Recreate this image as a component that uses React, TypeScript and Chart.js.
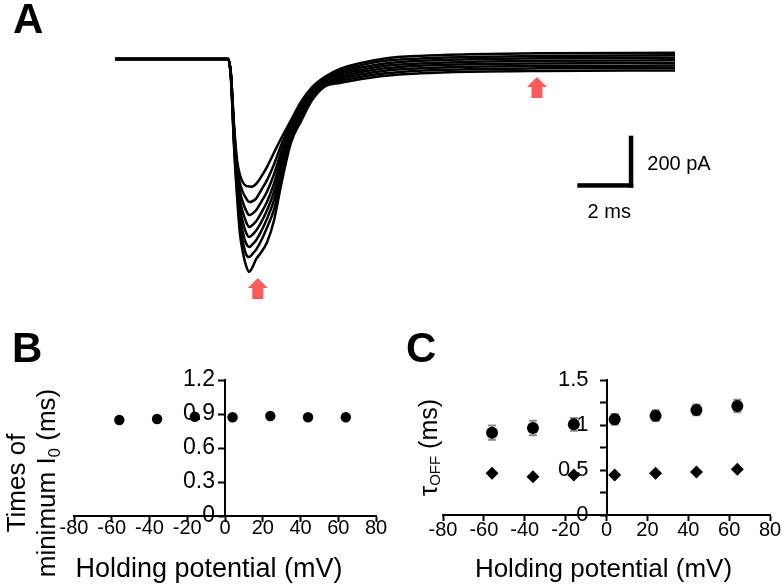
import React, { useEffect, useRef } from 'react';
import { Chart, registerables } from 'chart.js';
Chart.register(...registerables);

const FONT = '"Liberation Sans", Arial, Helvetica, sans-serif';
Chart.defaults.font.family = FONT;
Chart.defaults.color = '#000';

// ---------- Panel A: current traces (time in ms, current in pA) ----------
const timeMs = [0, 4.04, 4.14, 4.25, 4.36, 4.46, 4.57, 4.68, 4.79, 4.89, 5.04, 5.21, 5.43, 5.68, 5.96, 6.29, 6.64, 7.04, 7.5, 8.04, 8.75, 9.64, 10.89, 12.68, 15.18, 20];
const trace1 = [0, 0, -55, -250, -390, -445, -475, -488, -490, -491, -480, -455, -415, -360, -300, -235, -165, -108, -68, -38, -16, 2, 12, 18, 22, 24];
const trace2 = [0, 0, -58, -262, -410, -477, -514, -535, -550, -548, -537, -506, -466, -405, -324, -247, -176, -115, -74, -46, -25, -7, 2, 8, 12, 14];
const trace3 = [0, 0, -60, -274, -430, -509, -552, -582, -600, -596, -582, -552, -510, -443, -349, -259, -186, -122, -79, -53, -34, -17, -7, -1, 3, 5];
const trace4 = [0, 0, -63, -286, -450, -541, -591, -626, -646, -640, -624, -594, -549, -478, -373, -271, -197, -129, -85, -61, -43, -26, -17, -11, -7, -5];
const trace5 = [0, 0, -66, -299, -470, -574, -629, -667, -685, -678, -660, -630, -582, -510, -397, -284, -208, -137, -90, -69, -51, -36, -26, -20, -17, -15];
const trace6 = [0, 0, -69, -311, -490, -606, -668, -709, -723, -715, -697, -665, -614, -542, -421, -296, -219, -144, -96, -77, -60, -45, -36, -30, -27, -25];
const trace7 = [0, 0, -71, -323, -510, -638, -706, -751, -762, -752, -733, -701, -648, -578, -446, -308, -229, -151, -101, -84, -69, -55, -45, -39, -36, -34];
const trace8 = [0, 0, -74, -335, -530, -670, -745, -795, -819, -805, -770, -745, -705, -620, -470, -320, -240, -158, -106, -92, -78, -64, -55, -49, -46, -44];
const traces = [trace1, trace2, trace3, trace4, trace5, trace6, trace7, trace8];

const arrowTimes = [5.1, 15.07];
const arrowCurrents = [-842, -69];

const scaleBarCornerT = 18.51;
const scaleBarCornerI = -495;
const scaleBarTime = 2; // ms
const scaleBarCurrent = 200; // pA
const scaleBarTimeLabel = '2 ms';
const scaleBarCurrentLabel = '200 pA';

// ---------- Panels B and C ----------
const holdingPotential = [-56, -36, -16, 4, 24, 44, 64];
const timeOfMinimum = [0.847, 0.856, 0.876, 0.871, 0.882, 0.871, 0.871];
const tauOffSlow = [0.915, 0.967, 1.007, 1.063, 1.104, 1.167, 1.211];
const tauOffSlowErr = [0.08, 0.08, 0.07, 0.06, 0.06, 0.06, 0.07];
const tauOffFast = [0.463, 0.426, 0.444, 0.444, 0.463, 0.478, 0.507];

type Part = { text: string; size: number; dy?: number; bold?: boolean };

function drawRich(ctx: CanvasRenderingContext2D, parts: Part[], x: number, y: number, rotate: boolean, align: 'center' | 'left') {
  ctx.save();
  ctx.translate(x, y);
  if (rotate) ctx.rotate(-Math.PI / 2);
  const widths = parts.map((p) => {
    ctx.font = `${p.bold ? 'bold ' : ''}${p.size}px ${FONT}`;
    return ctx.measureText(p.text).width;
  });
  const total = widths.reduce((a, b) => a + b, 0);
  let cx = align === 'center' ? -total / 2 : 0;
  ctx.textAlign = 'left';
  ctx.textBaseline = 'alphabetic';
  ctx.fillStyle = '#000';
  parts.forEach((p, i) => {
    ctx.font = `${p.bold ? 'bold ' : ''}${p.size}px ${FONT}`;
    ctx.fillText(p.text, cx, p.dy || 0);
    cx += widths[i];
  });
  ctx.restore();
}

const fmtB = (v: any) => String(Number(Number(v).toFixed(1)));
const fmtC = (v: any) => {
  const n = Number(v);
  return Math.abs(n * 2 - Math.round(n * 2)) < 1e-6 ? String(Number(n.toFixed(2))) : '';
};

// y tick labels for an axis that crosses at x = 0 (drawn from the scale's own ticks)
function drawYTickLabels(chart: any, size: number, gap: number, fmt: (v: any) => string) {
  const { ctx } = chart;
  const xs = chart.scales.x;
  const ys = chart.scales.y;
  const ax = xs.getPixelForValue(0);
  ctx.save();
  ctx.font = `${size}px ${FONT}`;
  ctx.textAlign = 'right';
  ctx.textBaseline = 'middle';
  ctx.fillStyle = '#000';
  ys.ticks.forEach((t: any) => {
    const label = fmt(t.value);
    if (label) ctx.fillText(label, ax - gap, ys.getPixelForValue(t.value));
  });
  ctx.restore();
}

const panelAPlugin = {
  id: 'panelA',
  afterDatasetsDraw(chart: any) {
    const { ctx } = chart;
    const xs = chart.scales.x;
    const ys = chart.scales.y;
    ctx.save();
    // red arrows
    ctx.fillStyle = '#fb5b5b';
    arrowTimes.forEach((t, i) => {
      const px = xs.getPixelForValue(t);
      const py = ys.getPixelForValue(arrowCurrents[i]);
      ctx.beginPath();
      ctx.moveTo(px, py);
      ctx.lineTo(px + 10, py + 10);
      ctx.lineTo(px + 5.5, py + 10);
      ctx.lineTo(px + 5.5, py + 21);
      ctx.lineTo(px - 5.5, py + 21);
      ctx.lineTo(px - 5.5, py + 10);
      ctx.lineTo(px - 10, py + 10);
      ctx.closePath();
      ctx.fill();
    });
    // scale bar
    const cx = xs.getPixelForValue(scaleBarCornerT);
    const cy = ys.getPixelForValue(scaleBarCornerI);
    const lx = xs.getPixelForValue(scaleBarCornerT - scaleBarTime);
    const ty = ys.getPixelForValue(scaleBarCornerI + scaleBarCurrent);
    const w = 4.5;
    ctx.fillStyle = '#000';
    ctx.fillRect(lx, cy - w, cx - lx, w);
    ctx.fillRect(cx - w, ty, w, cy - ty);
    ctx.font = `20px ${FONT}`;
    ctx.textBaseline = 'alphabetic';
    ctx.textAlign = 'left';
    ctx.fillText(scaleBarCurrentLabel, cx + 14, cy - 17.5);
    ctx.textAlign = 'center';
    ctx.fillText(scaleBarTimeLabel, (lx + cx) / 2 + 4, cy + 30.5);
    ctx.restore();
    drawRich(ctx, [{ text: 'A', size: 42, bold: true }], 13, 33, false, 'left');
  },
};

const panelBPlugin = {
  id: 'panelB',
  beforeDatasetsDraw(chart: any) {
    drawYTickLabels(chart, 23, 10, fmtB);
  },
  afterDraw(chart: any) {
    const { ctx } = chart;
    drawRich(ctx, [{ text: 'B', size: 42, bold: true }], 12, 62, false, 'left');
    drawRich(ctx, [{ text: 'Holding potential (mV)', size: 27 }], 209, 277, false, 'center');
    drawRich(ctx, [{ text: 'Times of', size: 26 }], 25, 183, true, 'center');
    drawRich(ctx, [
      { text: 'minimum I', size: 26 },
      { text: '0', size: 17, dy: 5 },
      { text: ' (ms)', size: 26 },
    ], 55, 183, true, 'center');
  },
};

const panelCPlugin = {
  id: 'panelC',
  beforeDatasetsDraw(chart: any) {
    drawYTickLabels(chart, 22, 18, fmtC);
    const { ctx } = chart;
    const xs = chart.scales.x;
    const ys = chart.scales.y;
    ctx.save();
    ctx.strokeStyle = '#8c8c8c';
    ctx.lineWidth = 2;
    holdingPotential.forEach((v, i) => {
      const px = xs.getPixelForValue(v);
      const y0 = ys.getPixelForValue(tauOffSlow[i] - tauOffSlowErr[i]);
      const y1 = ys.getPixelForValue(tauOffSlow[i] + tauOffSlowErr[i]);
      ctx.beginPath();
      ctx.moveTo(px, y0);
      ctx.lineTo(px, y1);
      ctx.moveTo(px - 4, y0);
      ctx.lineTo(px + 4, y0);
      ctx.moveTo(px - 4, y1);
      ctx.lineTo(px + 4, y1);
      ctx.stroke();
    });
    ctx.restore();
  },
  afterDraw(chart: any) {
    const { ctx } = chart;
    drawRich(ctx, [{ text: 'C', size: 42, bold: true }], 15, 62, false, 'left');
    drawRich(ctx, [{ text: 'Holding potential (mV)', size: 26 }], 212.5, 277, false, 'center');
    drawRich(ctx, [
      { text: 'τ', size: 26 },
      { text: 'OFF', size: 15, dy: 3 },
      { text: ' (ms)', size: 25 },
    ], 46, 147.5, true, 'center');
  },
};

function axisCommon(tickPadding: number) {
  return {
    grid: { display: true, drawOnChartArea: false, drawTicks: true, tickLength: 6, tickWidth: 2, tickColor: '#000', color: '#000' },
    border: { display: true, color: '#000', width: 2 },
    ticks: { color: '#000', font: { family: FONT, size: 20, lineHeight: 1 }, padding: tickPadding, autoSkip: false, maxRotation: 0, minRotation: 0 },
  };
}

export default function App() {
  const aRef = useRef<HTMLCanvasElement>(null);
  const bRef = useRef<HTMLCanvasElement>(null);
  const cRef = useRef<HTMLCanvasElement>(null);

  useEffect(() => {
    const chartA = new Chart(aRef.current as HTMLCanvasElement, {
      type: 'line',
      data: {
        datasets: traces.map((tr) => ({
          data: timeMs.map((t, i) => ({ x: t, y: tr[i] })),
          borderColor: '#000',
          borderWidth: 2.5,
          pointRadius: 0,
          fill: false,
          cubicInterpolationMode: 'monotone' as const,
        })),
      },
      options: {
        animation: false,
        responsive: false,
        events: [],
        layout: { padding: 0 },
        plugins: { legend: { display: false }, tooltip: { enabled: false }, title: { display: false } },
        scales: {
          x: { type: 'linear', display: false, min: -4.107, max: 23.821 },
          y: { type: 'linear', display: false, min: -926.9, max: 226.9 },
        },
      },
      plugins: [panelAPlugin],
    } as any);

    const xb = axisCommon(-3.5);
    const yb = axisCommon(0);
    const chartB = new Chart(bRef.current as HTMLCanvasElement, {
      type: 'scatter',
      data: {
        datasets: [{
          data: holdingPotential.map((v, i) => ({ x: v, y: timeOfMinimum[i] })),
          pointRadius: 5.2,
          pointBackgroundColor: '#000',
          pointBorderColor: '#000',
          pointBorderWidth: 0,
          pointStyle: 'circle',
        }],
      },
      options: {
        animation: false,
        responsive: false,
        events: [],
        layout: { padding: { left: 74, right: 15, top: 80, bottom: 30 } },
        plugins: { legend: { display: false }, tooltip: { enabled: false } },
        scales: {
          x: {
            type: 'linear', position: 'bottom', min: -80, max: 80,
            ...xb,
            ticks: { ...xb.ticks, stepSize: 20, callback: (v: any) => String(v) },
            afterFit: (s: any) => { s.height = 40; },
          },
          y: {
            type: 'linear', position: { x: 0 }, min: 0, max: 1.2,
            ...yb,
            ticks: { ...yb.ticks, display: false, stepSize: 0.3, callback: fmtB },
            afterFit: (s: any) => { s.width = 0; },
          },
        },
      },
      plugins: [panelBPlugin],
    } as any);

    const xc = axisCommon(-0.5);
    const yc = axisCommon(0);
    const chartC = new Chart(cRef.current as HTMLCanvasElement, {
      type: 'scatter',
      data: {
        datasets: [
          {
            data: holdingPotential.map((v, i) => ({ x: v, y: tauOffSlow[i] })),
            pointRadius: 6,
            pointBackgroundColor: '#000',
            pointBorderColor: '#000',
            pointBorderWidth: 0,
            pointStyle: 'circle',
          },
          {
            data: holdingPotential.map((v, i) => ({ x: v, y: tauOffFast[i] })),
            pointRadius: 6.5,
            pointBackgroundColor: '#000',
            pointBorderColor: '#000',
            pointBorderWidth: 0,
            pointStyle: 'rectRot',
          },
        ],
      },
      options: {
        animation: false,
        responsive: false,
        events: [],
        layout: { padding: { left: 52, right: 12, top: 80, bottom: 31 } },
        plugins: { legend: { display: false }, tooltip: { enabled: false } },
        scales: {
          x: {
            type: 'linear', position: 'bottom', min: -80, max: 80,
            ...xc,
            ticks: { ...xc.ticks, stepSize: 20, callback: (v: any) => String(v) },
            afterFit: (s: any) => { s.height = 40; },
          },
          y: {
            type: 'linear', position: { x: 0 }, min: 0, max: 1.5,
            ...yc,
            ticks: { ...yc.ticks, display: false, stepSize: 0.25, callback: fmtC },
            afterFit: (s: any) => { s.width = 0; },
          },
        },
      },
      plugins: [panelCPlugin],
    } as any);

    return () => {
      chartA.destroy();
      chartB.destroy();
      chartC.destroy();
    };
  }, []);

  return (
    <div style={{ position: 'fixed', left: 0, top: 0, width: 782, height: 586, background: '#fff', overflow: 'hidden' }}>
      <canvas ref={aRef} width={782} height={300} style={{ position: 'absolute', left: 0, top: 0, width: 782, height: 300 }} />
      <canvas ref={bRef} width={391} height={286} style={{ position: 'absolute', left: 0, top: 300, width: 391, height: 286 }} />
      <canvas ref={cRef} width={391} height={286} style={{ position: 'absolute', left: 391, top: 300, width: 391, height: 286 }} />
    </div>
  );
}
